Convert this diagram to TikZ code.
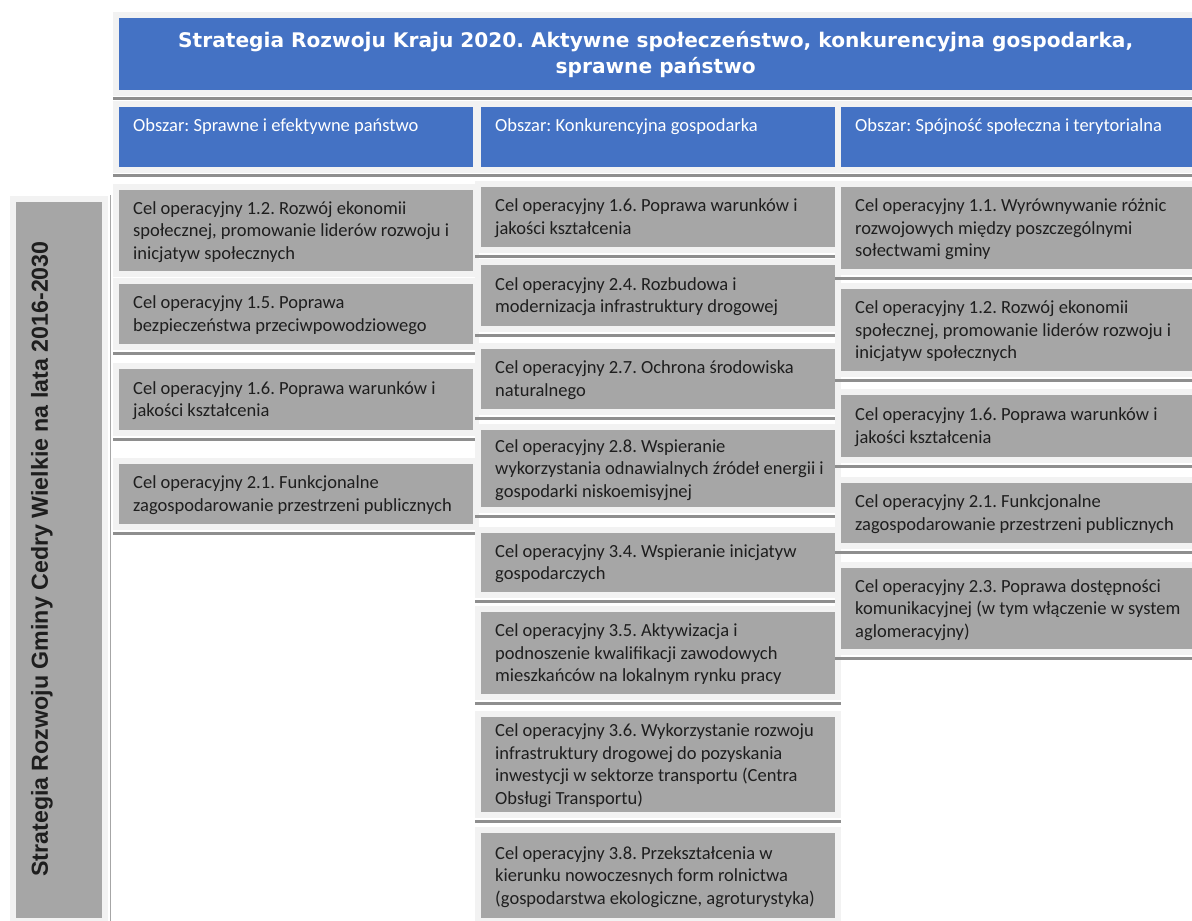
\documentclass[tikz,border=0pt]{standalone}
\usepackage{fontspec}
\setmainfont{Carlito}
\newfontfamily\hdrfont{DejaVu Sans}
\newfontfamily\vertfont{Liberation Sans}
\frenchspacing
\definecolor{hdrblue}{HTML}{4472C4}
\definecolor{boxgray}{HTML}{A6A6A6}
\definecolor{framegray}{HTML}{F2F2F2}
\definecolor{linegray}{HTML}{8E8E8E}
\definecolor{textdark}{HTML}{1E1E1E}
\tikzset{
  frame/.style={preaction={draw=framegray,line width=12pt}},
  gbox/.style={frame, fill=boxgray, draw=none, anchor=north west, inner sep=0pt, minimum width=354pt},
  gtext/.style={anchor=west, inner sep=0pt, align=left, text=textdark, font=\frenchspacing\fontsize{18.5}{22.5}\selectfont},
  bluebox/.style={frame, fill=hdrblue, draw=none, anchor=north west, inner sep=0pt},
  hdrtext/.style={text=white, anchor=west, inner sep=0pt, font=\frenchspacing\fontsize{18.5}{20}\selectfont},
  sepline/.style={draw=linegray, line width=3pt},
}
% #1 name, #2 x, #3 y, #4 height, #5 text
\newcommand{\goalbox}[5]{%
  \node[gbox, minimum height=#4pt] (#1) at (#2,#3) {};
  \node[gtext] (#1t) at ([xshift=14pt,yshift=-1pt]#1.west) {#5};
}
\begin{document}
\begin{tikzpicture}[x=1pt,y=-1pt]
\useasboundingbox (0,0) rectangle (1192,921);
\clip (0,0) rectangle (1192,921);
\fill[white] (0,0) rectangle (1192,921);

% top header
\node[bluebox, minimum width=1073pt, minimum height=72pt, text=white, align=center,
  font=\frenchspacing\hdrfont\bfseries\fontsize{20.15}{26}\selectfont] (top) at (119,18)
  {Strategia Rozwoju Kraju 2020. Aktywne społeczeństwo, konkurencyjna gospodarka,\\ sprawne państwo};
\draw[sepline] ([xshift=-6pt,yshift=-8pt]top.south west) -- ([xshift=6pt,yshift=-8pt]top.south east);

% column headers
\node[bluebox, minimum width=354pt, minimum height=60pt] (h1) at (119,107) {};
\node[bluebox, minimum width=354pt, minimum height=60pt] (h2) at (481,107) {};
\node[bluebox, minimum width=354pt, minimum height=60pt] (h3) at (841,107) {};
\node[hdrtext] (h1t) at ([xshift=14pt,yshift=-20pt]h1.north west) {Obszar: Sprawne i efektywne państwo};
\node[hdrtext] (h2t) at ([xshift=14pt,yshift=-20pt]h2.north west) {Obszar: Konkurencyjna gospodarka};
\node[hdrtext] (h3t) at ([xshift=14pt,yshift=-20pt]h3.north west) {Obszar: Spójność społeczna i terytorialna};
\foreach \h in {h1,h2,h3}{
  \draw[sepline] ([xshift=-6pt,yshift=-8pt]\h.south west) -- ([xshift=6pt,yshift=-8pt]\h.south east);
}

% side bar
\node[frame, fill=boxgray, anchor=north west, minimum width=86pt, minimum height=716pt, inner sep=0pt] (side) at (16,202) {};
\node[rotate=90, text=textdark, inner sep=0pt, font=\vertfont\bfseries\fontsize{23.2}{26}\selectfont] (sidet) at (42,559)
  {Strategia Rozwoju Gminy Cedry Wielkie na lata 2016-2030};
\draw[draw=gray!70, line width=1.2pt] ([xshift=8pt,yshift=7pt]side.north east) -- ([xshift=8pt,yshift=-10pt]side.south east);

% left column
\goalbox{l1}{119}{190}{81}{Cel operacyjny 1.2. Rozwój ekonomii\\ społecznej, promowanie liderów rozwoju i\\ inicjatyw społecznych}
\goalbox{l2}{119}{284}{60}{Cel operacyjny 1.5. Poprawa\\ bezpieczeństwa przeciwpowodziowego}
\goalbox{l3}{119}{369}{61}{Cel operacyjny 1.6. Poprawa warunków i\\ jakości kształcenia}
\goalbox{l4}{119}{464}{60}{Cel operacyjny 2.1. Funkcjonalne\\ zagospodarowanie przestrzeni publicznych}
\foreach \b in {l2,l3,l4}{
  \draw[sepline] ([xshift=-6pt,yshift=-9pt]\b.south west) -- ([xshift=6pt,yshift=-9pt]\b.south east);
}

% middle column
\goalbox{m1}{481}{187}{60}{Cel operacyjny 1.6. Poprawa warunków i\\ jakości kształcenia}
\goalbox{m2}{481}{265}{61}{Cel operacyjny 2.4. Rozbudowa i\\ modernizacja infrastruktury drogowej}
\goalbox{m3}{481}{349}{60}{Cel operacyjny 2.7. Ochrona środowiska\\ naturalnego}
\goalbox{m4}{481}{430}{77}{Cel operacyjny 2.8. Wspieranie\\ wykorzystania odnawialnych źródeł energii i\\ gospodarki niskoemisyjnej}
\goalbox{m5}{481}{533}{59}{Cel operacyjny 3.4. Wspieranie inicjatyw\\ gospodarczych}
\goalbox{m6}{481}{612}{82}{Cel operacyjny 3.5. Aktywizacja i\\ podnoszenie kwalifikacji zawodowych\\ mieszkańców na lokalnym rynku pracy}
\goalbox{m7}{481}{717}{95}{Cel operacyjny 3.6. Wykorzystanie rozwoju\\ infrastruktury drogowej do pozyskania\\ inwestycji w sektorze transportu (Centra\\ Obsługi Transportu)}
\goalbox{m8}{481}{833}{85}{Cel operacyjny 3.8. Przekształcenia w\\ kierunku nowoczesnych form rolnictwa\\ (gospodarstwa ekologiczne, agroturystyka)}
\foreach \b in {m1,m2,m3,m4,m5,m6,m7}{
  \draw[sepline] ([xshift=-6pt,yshift=-9pt]\b.south west) -- ([xshift=6pt,yshift=-9pt]\b.south east);
}

% right column
\goalbox{r1}{841}{187}{82}{Cel operacyjny 1.1. Wyrównywanie różnic\\ rozwojowych między poszczególnymi\\ sołectwami gminy}
\goalbox{r2}{841}{289}{82}{Cel operacyjny 1.2. Rozwój ekonomii\\ społecznej, promowanie liderów rozwoju i\\ inicjatyw społecznych}
\goalbox{r3}{841}{395}{62}{Cel operacyjny 1.6. Poprawa warunków i\\ jakości kształcenia}
\goalbox{r4}{841}{483}{60}{Cel operacyjny 2.1. Funkcjonalne\\ zagospodarowanie przestrzeni publicznych}
\goalbox{r5}{841}{568}{81}{Cel operacyjny 2.3. Poprawa dostępności\\ komunikacyjnej (w tym włączenie w system\\ aglomeracyjny)}
\foreach \b in {r1,r2,r3,r4,r5}{
  \draw[sepline] ([xshift=-6pt,yshift=-9pt]\b.south west) -- ([xshift=6pt,yshift=-9pt]\b.south east);
}
\end{tikzpicture}
\end{document}
